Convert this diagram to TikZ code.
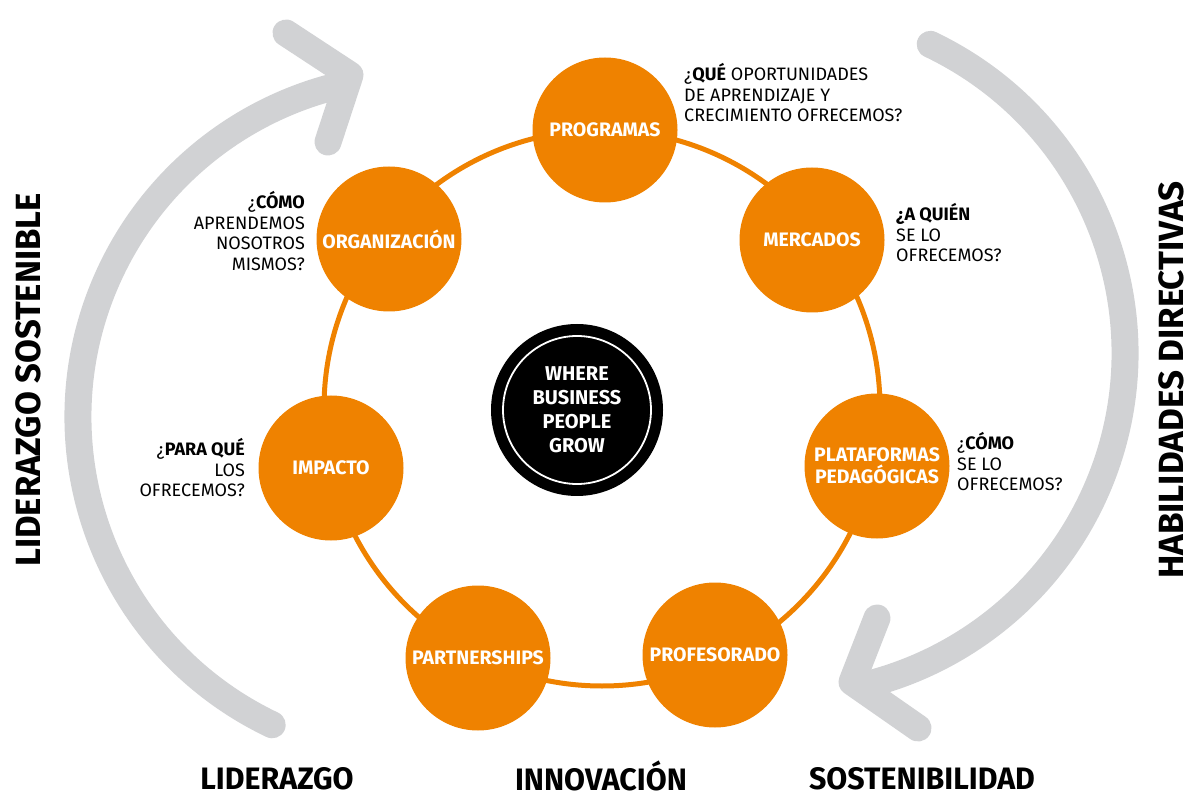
\documentclass[tikz,border=0pt]{standalone}
\usepackage{fontspec}
\setmainfont{Fira Sans}
\usetikzlibrary{calc}
\definecolor{org}{HTML}{EF8200}
\definecolor{gry}{HTML}{D1D2D4}
\begin{document}
\begin{tikzpicture}[x=1pt,y=1pt,
  bub/.style={circle, fill=org, minimum size=145pt, inner sep=0pt, text=white,
    font=\fontsize{19.5}{24}\selectfont\bfseries, align=center},
  qleft/.style={anchor=west, align=left, inner sep=0pt, font=\fontsize{18}{20.5}\selectfont},
  qright/.style={anchor=east, align=right, inner sep=0pt, font=\fontsize{18}{20.5}\selectfont},
  big/.style={font=\fontsize{31}{31}\selectfont\bfseries, inner sep=0pt},
  vbig/.style={font=\fontsize{35}{35}\selectfont\bfseries, inner sep=0pt, rotate=90},
  garc/.style={draw=gry, line width=27pt, line cap=round, line join=round},
  ring/.style={draw=org, line width=5pt}]
\useasboundingbox (0,0) rectangle (1192,-799);
% grey arrows
\coordinate (cL) at (419,-417);
\coordinate (cR) at (783,-353);
\draw[garc] ($(cL)+(244.5:341pt)$) arc[start angle=244.5, end angle=104, radius=341pt];
\coordinate (la1) at (286,-33);
\coordinate (la2) at (350,-75);
\coordinate (la3) at (328,-142);
\draw[garc] (la1) -- (la2) -- (la3);
\draw[garc] ($(cR)+(64.5:342pt)$) arc[start angle=64.5, end angle=-76, radius=342pt];
\coordinate (ra1) at (877,-618);
\coordinate (ra2) at (852,-682);
\coordinate (ra3) at (918,-728);
\draw[garc] (ra1) -- (ra2) -- (ra3);
% orange ring
\coordinate (rc) at (602,-408);
\draw[ring] (rc) circle[radius=278pt];
% bubbles
\node[bub] (prog) at (605,-130) {PROGRAMAS};
\node[bub] (merc) at (812,-240) {MERCADOS};
\node[bub] (plat) at (877,-466) {PLATAFORMAS\\[-2pt]PEDAGÓGICAS};
\node[bub] (prof) at (715,-655) {PROFESORADO};
\node[bub] (part) at (478,-658) {PARTNERSHIPS};
\node[bub] (imp) at (331,-468) {IMPACTO};
\node[bub] (orgz) at (389,-239) {ORGANIZACIÓN};
% core
\node[circle, fill=black, minimum size=172pt, inner sep=0pt] (core) at (577,-410) {};
\draw[white, line width=1.8pt] (core.center) circle[radius=74pt];
\node[text=white, align=center, inner sep=0pt, font=\fontsize{20}{24}\selectfont\bfseries] (coretxt) at (core.center) {WHERE\\BUSINESS\\PEOPLE\\GROW};
% questions
\node[qleft] (qprog) at (684,-93) {¿\textbf{QUÉ} OPORTUNIDADES\\DE APRENDIZAJE Y\\CRECIMIENTO OFRECEMOS?};
\node[qleft] (qmerc) at (896,-233) {\textbf{¿A QUIÉN}\\SE LO\\OFRECEMOS?};
\node[qleft] (qplat) at (957,-462) {¿\textbf{CÓMO}\\SE LO\\OFRECEMOS?};
\node[qright] (qorg) at (305,-231) {¿\textbf{CÓMO}\\APRENDEMOS\\NOSOTROS\\MISMOS?};
\node[qright] (qimp) at (245,-468) {¿\textbf{PARA QUÉ}\\LOS\\OFRECEMOS?};
% big labels
\node[big] (lid) at (277,-779) {\scalebox{0.98}[1]{LIDERAZGO}};
\node[big] (inn) at (601,-776) {\scalebox{0.98}[1]{INNOVACIÓN}};
\node[big] (sos) at (922,-779) {\scalebox{0.98}[1]{SOSTENIBILIDAD}};
\node[vbig] (lsos) at (28,-380) {\scalebox{0.99}[1]{LIDERAZGO SOSTENIBLE}};
\node[vbig] (hab) at (1171,-380) {HABILIDADES DIRECTIVAS};
\end{tikzpicture}
\end{document}
